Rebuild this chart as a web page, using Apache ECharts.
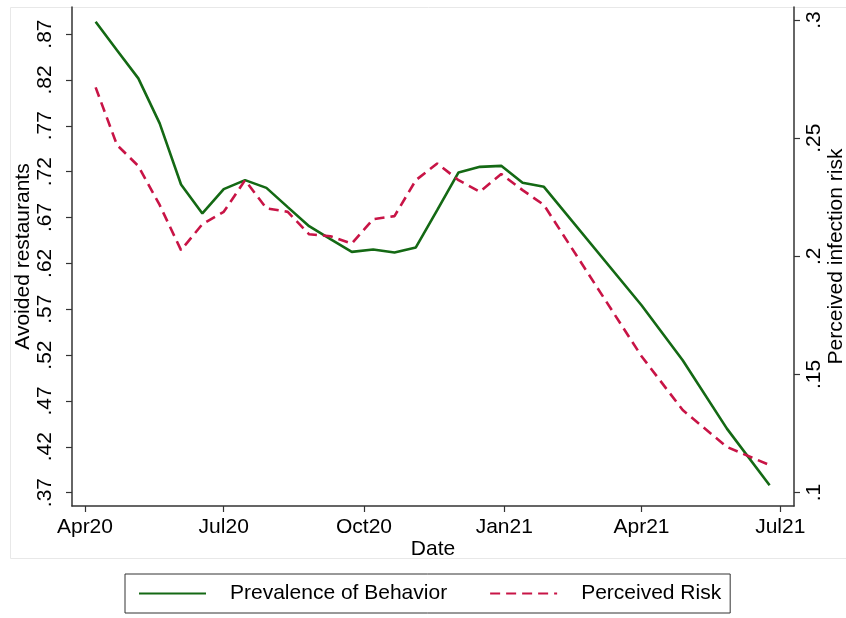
<!DOCTYPE html>
<html>
<head>
<meta charset="utf-8">
<script src="https://cdn.jsdelivr.net/npm/echarts@6/dist/echarts.min.js"></script>
<style>
  html, body { margin: 0; padding: 0; background: #fff; }
  #chart { width: 846px; height: 618px; }
</style>
</head>
<body>
<div id="chart"></div>
<script>
// Survey waves (biweekly through January 2021, then roughly monthly)
const waveDates = [
  '2020-04-08', '2020-04-22', '2020-05-06', '2020-05-20', '2020-06-03', '2020-06-17',
  '2020-07-01', '2020-07-15', '2020-07-29', '2020-08-12', '2020-08-26', '2020-09-09',
  '2020-09-23', '2020-10-07', '2020-10-21', '2020-11-04', '2020-11-18', '2020-12-02',
  '2020-12-16', '2020-12-30', '2021-01-13', '2021-01-27',
  '2021-04-01', '2021-04-28', '2021-05-27', '2021-06-24'
];

// Share of respondents avoiding restaurants (left axis)
const avoidedRestaurants = [
  0.8834, 0.8523, 0.8217, 0.7726, 0.7060, 0.6744,
  0.7009, 0.7107, 0.7023, 0.6813, 0.6605, 0.6463,
  0.6325, 0.6351, 0.6318, 0.6373, 0.6780, 0.7191,
  0.7252, 0.7263, 0.7078, 0.7034,
  0.5743, 0.5143, 0.4398, 0.3780
];

// Perceived probability of infection (right axis)
const perceivedRisk = [
  0.2715, 0.2471, 0.2382, 0.2217, 0.2026, 0.2136,
  0.2188, 0.2322, 0.2203, 0.2188, 0.2093, 0.2085,
  0.2054, 0.2157, 0.2170, 0.2322, 0.2393, 0.2322,
  0.2273, 0.2348, 0.2280, 0.2217,
  0.1577, 0.1349, 0.1193, 0.1116
];

// Axis ticks
const dateTicks = ['2020-04-01', '2020-07-01', '2020-10-01', '2021-01-01', '2021-04-01', '2021-07-01'];
const dateTickLabels = ['Apr20', 'Jul20', 'Oct20', 'Jan21', 'Apr21', 'Jul21'];
const leftTicks = [0.37, 0.42, 0.47, 0.52, 0.57, 0.62, 0.67, 0.72, 0.77, 0.82, 0.87];
const rightTicks = [0.10, 0.15, 0.20, 0.25, 0.30];

const seriesNames = ['Prevalence of Behavior', 'Perceived Risk'];

const FONT = 'Liberation Sans, Arial, Helvetica, sans-serif';
const AXIS_COLOR = '#333333';
const DAY = 24 * 3600 * 1000;

// Dates are plotted as UTC timestamps on a numeric axis
const toTime = s => Date.parse(s + 'T00:00:00Z');
const tickTimes = dateTicks.map(toTime);
const fmtDec = v => {
  const s = (Math.round(v * 100) / 100).toString();
  return s.replace(/^0\./, '.');
};

const behaviorData = waveDates.map((d, i) => [toTime(d), avoidedRestaurants[i]]);
const riskData = waveDates.map((d, i) => [toTime(d), perceivedRisk[i]]);

const chart = echarts.init(document.getElementById('chart'), null, { renderer: 'canvas' });

const yAxisCommon = {
  type: 'value',
  nameLocation: 'middle',
  nameRotate: 90,
  nameMoveOverlap: false,
  nameTextStyle: { fontFamily: FONT, fontSize: 21, color: '#000' },
  splitLine: { show: false },
  axisLine: { show: true, lineStyle: { color: AXIS_COLOR, width: 1.5 } },
  axisTick: { show: true, length: 6, lineStyle: { color: AXIS_COLOR, width: 1.2 } },
};

chart.setOption({
  backgroundColor: '#fff',
  animation: false,
  graphic: [{
    type: 'rect',
    shape: { x: 10.5, y: 7.5, width: 900, height: 551 },
    style: { fill: 'none', stroke: '#e8e8e8', lineWidth: 1 },
    z: -1,
    silent: true
  }],
  grid: { left: 72, right: 52, top: 7, bottom: 112, containLabel: false, outerBoundsMode: 'none' },
  legend: {
    data: seriesNames,
    left: 125,
    top: 574,
    orient: 'horizontal',
    padding: [9, 9, 9, 13],
    borderColor: AXIS_COLOR,
    borderWidth: 1,
    itemWidth: 67,
    itemHeight: 21,
    itemGap: 42,
    itemStyle: { opacity: 0 },
    textStyle: { fontFamily: FONT, fontSize: 21, color: '#000', padding: [0, 0, 0, 19] }
  },
  xAxis: {
    type: 'value',
    min: toTime('2020-03-23') + DAY / 2,
    max: toTime('2021-07-10'),
    name: 'Date',
    nameLocation: 'middle',
    nameGap: 33,
    nameMoveOverlap: false,
    nameTextStyle: { fontFamily: FONT, fontSize: 21, color: '#000', verticalAlign: 'top' },
    splitLine: { show: false },
    axisLine: { show: true, lineStyle: { color: AXIS_COLOR, width: 1.5 } },
    axisTick: { show: true, length: 6, customValues: tickTimes, lineStyle: { color: AXIS_COLOR, width: 1.2 } },
    axisLabel: {
      customValues: tickTimes,
      margin: 11,
      fontFamily: FONT,
      fontSize: 21,
      color: '#000',
      formatter: v => {
        const idx = tickTimes.indexOf(v);
        return idx >= 0 ? dateTickLabels[idx] : '';
      }
    }
  },
  yAxis: [
    Object.assign({}, yAxisCommon, {
      position: 'left',
      min: 0.3554,
      max: 0.8995,
      name: 'Avoided restaurants',
      nameGap: 38,
      axisTick: Object.assign({}, yAxisCommon.axisTick, { customValues: leftTicks }),
      axisLabel: {
        customValues: leftTicks,
        rotate: 90,
        margin: 16,
        fontFamily: FONT,
        fontSize: 21,
        color: '#000',
        formatter: fmtDec
      }
    }),
    Object.assign({}, yAxisCommon, {
      position: 'right',
      min: 0.0943,
      max: 0.3055,
      name: 'Perceived infection risk',
      nameGap: 32,
      axisTick: Object.assign({}, yAxisCommon.axisTick, { customValues: rightTicks }),
      axisLabel: {
        customValues: rightTicks,
        rotate: 90,
        margin: 10,
        fontFamily: FONT,
        fontSize: 21,
        color: '#000',
        formatter: fmtDec
      }
    })
  ],
  series: [
    {
      name: seriesNames[0],
      type: 'line',
      yAxisIndex: 0,
      data: behaviorData,
      symbol: 'none',
      color: '#146914',
      lineStyle: { color: '#146914', width: 2.6 }
    },
    {
      name: seriesNames[1],
      type: 'line',
      yAxisIndex: 1,
      data: riskData,
      symbol: 'none',
      color: '#c81446',
      lineStyle: { color: '#c81446', width: 2.6, type: [10, 6] }
    }
  ]
});
</script>
</body>
</html>
